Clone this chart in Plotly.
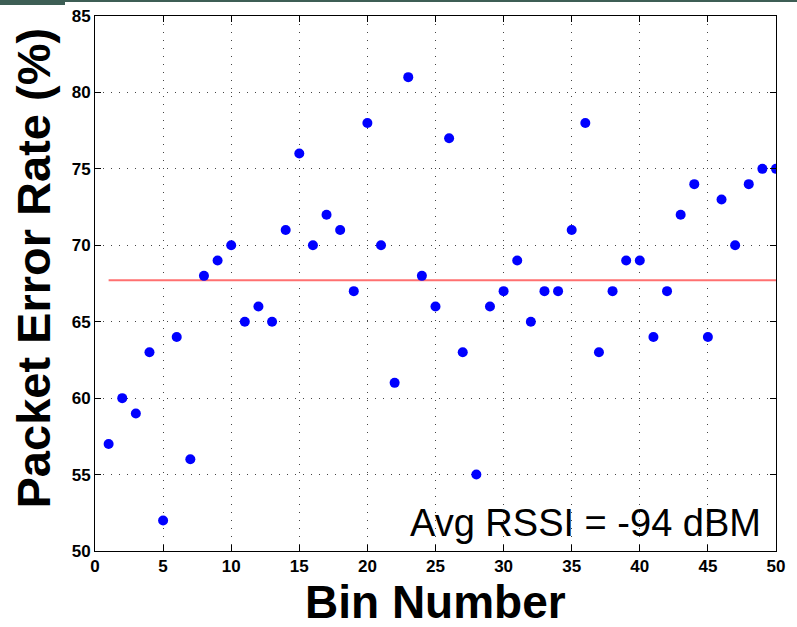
import plotly.graph_objects as go

bins = list(range(1, 51))
per = [57, 60, 59, 63, 52, 64, 56, 68, 69, 70,
       65, 66, 65, 71, 76, 70, 72, 71, 67, 78,
       70, 61, 81, 68, 66, 77, 63, 55, 66, 67,
       69, 65, 67, 67, 71, 78, 63, 67, 69, 69,
       64, 67, 72, 74, 64, 73, 70, 74, 75, 75]
xticks = [0, 5, 10, 15, 20, 25, 30, 35, 40, 45, 50]
yticks = [50, 55, 60, 65, 70, 75, 80, 85]
mean_per = sum(per) / len(per)

FONT = "Liberation Sans, Arial, sans-serif"

fig = go.Figure()
fig.add_trace(go.Scatter(x=[bins[0], bins[-1]], y=[mean_per, mean_per], mode="lines",
                         line=dict(color="#ff7070", width=2), showlegend=False, hoverinfo="skip"))
fig.add_trace(go.Scatter(x=bins, y=per, mode="markers",
                         marker=dict(color="#0000ff", size=10, line=dict(width=0)),
                         showlegend=False))

axis_common = dict(
    showline=True, linecolor="black", linewidth=1, mirror="allticks",
    ticks="inside", ticklen=6, tickcolor="black", automargin=False,
    showgrid=True, gridcolor="#444444", gridwidth=1, griddash="1px,7px",
    zeroline=False,
    tickfont=dict(family=FONT, size=17, color="black", weight="bold"),
)

fig.update_layout(
    width=797, height=627,
    margin=dict(l=95, r=21, t=16, b=76),
    paper_bgcolor="white", plot_bgcolor="white",
    xaxis=dict(range=[0, 50], tickvals=xticks, ticktext=[str(v) for v in xticks], **axis_common),
    yaxis=dict(range=[50, 85], tickvals=yticks, ticktext=[str(v) for v in yticks], **axis_common),
    annotations=[
        dict(text="Bin Number", xref="paper", yref="paper", x=0.5, y=0, xanchor="center",
             yanchor="top", yshift=-23, showarrow=False,
             font=dict(family=FONT, size=46, color="black", weight="bold")),
        dict(text="Packet Error Rate (%)", xref="paper", yref="paper", x=0, y=0.5,
             xanchor="center", yanchor="middle", xshift=-62, yshift=15, textangle=-90, showarrow=False,
             font=dict(family=FONT, size=47, color="black", weight="bold")),
        dict(text="Avg RSSI = -94 dBM", xref="paper", yref="paper", x=1, y=0,
             xanchor="right", yanchor="middle", xshift=-13, yshift=28, showarrow=False,
             font=dict(family=FONT, size=38, color="black")),
    ],
    shapes=[
        dict(type="rect", xref="paper", yref="paper", x0=-95/681, x1=1+21/681,
             y0=1+14/535, y1=1+16/535, fillcolor="#3d5e55", line=dict(width=0), layer="above"),
        dict(type="rect", xref="paper", yref="paper", x0=-95/681, x1=-30/681,
             y0=1+11/535, y1=1+16/535, fillcolor="#3d5e55", line=dict(width=0), layer="above"),
    ],
)

fig.write_html("out.html")
